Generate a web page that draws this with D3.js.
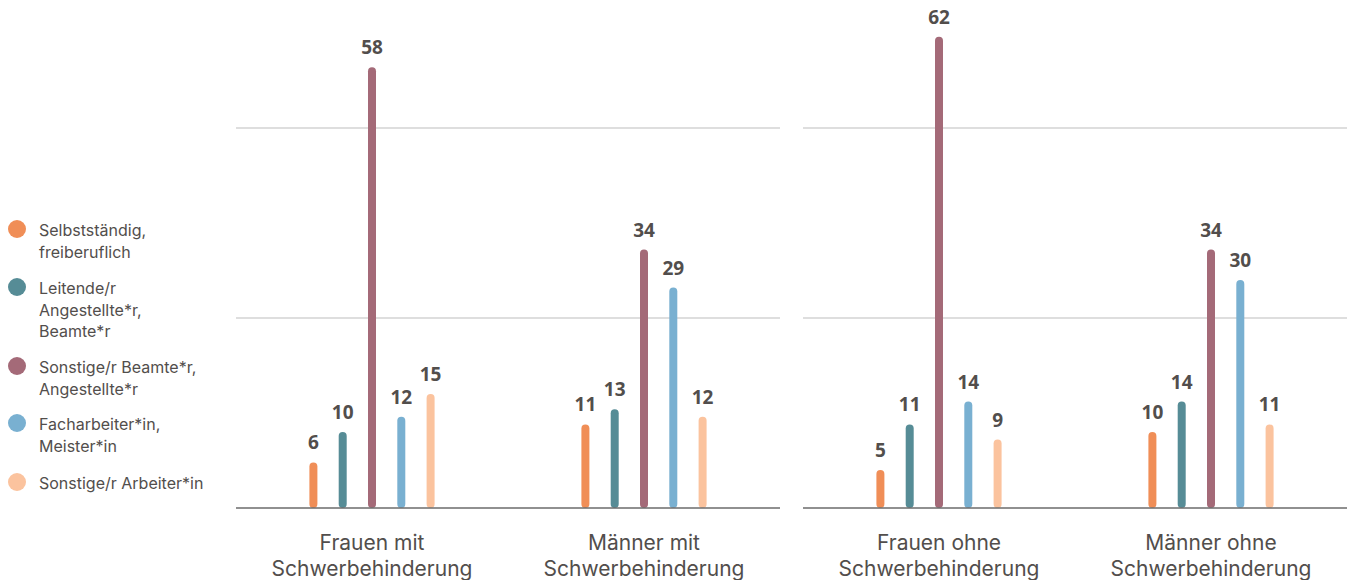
<!DOCTYPE html>
<html><head><meta charset="utf-8">
<script src="https://cdn.jsdelivr.net/npm/d3@7"></script>
<style>body{margin:0;background:#fff}svg{display:block}</style>
</head><body>
<script>
const seriesNames = ["Selbstständig, freiberuflich","Leitende/r Angestellte*r, Beamte*r","Sonstige/r Beamte*r, Angestellte*r","Facharbeiter*in, Meister*in","Sonstige/r Arbeiter*in"];
const legendLines = [["Selbstständig,","freiberuflich"],["Leitende/r","Angestellte*r,","Beamte*r"],["Sonstige/r Beamte*r,","Angestellte*r"],["Facharbeiter*in,","Meister*in"],["Sonstige/r Arbeiter*in"]];
const colors = ["#F08E57","#568C96","#A46A78","#79B0D1","#FBC39E"];
const panels = [["Frauen mit Schwerbehinderung","Männer mit Schwerbehinderung"],["Frauen ohne Schwerbehinderung","Männer ohne Schwerbehinderung"]];
const categoryLines = {
 "Frauen mit Schwerbehinderung":["Frauen mit","Schwerbehinderung"],
 "Männer mit Schwerbehinderung":["Männer mit","Schwerbehinderung"],
 "Frauen ohne Schwerbehinderung":["Frauen ohne","Schwerbehinderung"],
 "Männer ohne Schwerbehinderung":["Männer ohne","Schwerbehinderung"]};
const values = {
 "Frauen mit Schwerbehinderung":[6,10,58,12,15],
 "Männer mit Schwerbehinderung":[11,13,34,29,12],
 "Frauen ohne Schwerbehinderung":[5,11,62,14,9],
 "Männer ohne Schwerbehinderung":[10,14,34,30,11]};
const gridTicks = [25,50];

const W=1351,H=580;
const svg=d3.select("body").append("svg").attr("width",W).attr("height",H);
const font="Inter, 'Open Sans', sans-serif";
const valFont="'Open Sans', sans-serif";
const txt="#524e4c";

const y=d3.scaleLinear().domain([0,50]).range([508,128]);
const panelX=[[236,780],[803,1347]];

panels.forEach((cats,pi)=>{
  const [x0,x1]=panelX[pi];
  const g=svg.append("g");
  g.selectAll("line.grid").data(gridTicks).join("line")
    .attr("x1",x0).attr("x2",x1).attr("y1",d=>y(d)).attr("y2",d=>y(d))
    .attr("stroke","#bdbdbd").attr("stroke-width",1.2);
  const xb=d3.scaleBand().domain(cats).range([x0,x1]);
  const xi=d3.scalePoint().domain(d3.range(5)).range([-58.6,58.6]);
  cats.forEach(c=>{
    const cx=xb(c)+xb.bandwidth()/2;
    const vals=values[c];
    const gg=g.append("g");
    gg.selectAll("line.bar").data(vals).join("line")
      .attr("x1",(d,i)=>cx+xi(i)).attr("x2",(d,i)=>cx+xi(i))
      .attr("y1",y(0)-4).attr("y2",d=>y(d)+4)
      .attr("stroke",(d,i)=>colors[i]).attr("stroke-width",8).attr("stroke-linecap","round");
    gg.selectAll("text.val").data(vals).join("text")
      .attr("x",(d,i)=>cx+xi(i)).attr("y",d=>y(d)-13)
      .attr("text-anchor","middle").attr("font-family",valFont).attr("font-weight","bold")
      .attr("font-size",19).attr("fill",txt).text(d=>d);
    const t=gg.append("text").attr("text-anchor","middle").attr("font-family",font)
      .attr("font-size",21).attr("fill",txt);
    categoryLines[c].forEach((l,li)=>t.append("tspan").attr("x",cx).attr("y",549.5+li*26).text(l));
  });
  g.append("line").attr("x1",x0).attr("x2",x1).attr("y1",y(0)).attr("y2",y(0))
    .attr("stroke","#6b6b6b").attr("stroke-width",1.5);
});

const legY=[229,287,366,423,482];
const lg=svg.append("g");
seriesNames.forEach((s,i)=>{
  lg.append("circle").attr("cx",17).attr("cy",legY[i]).attr("r",9).attr("fill",colors[i]);
  const t=lg.append("text").attr("font-family",font).attr("font-size",16).attr("fill",txt);
  legendLines[i].forEach((l,li)=>t.append("tspan").attr("x",39).attr("y",legY[i]+7+li*21.5).text(l));
});
</script>
</body></html>
